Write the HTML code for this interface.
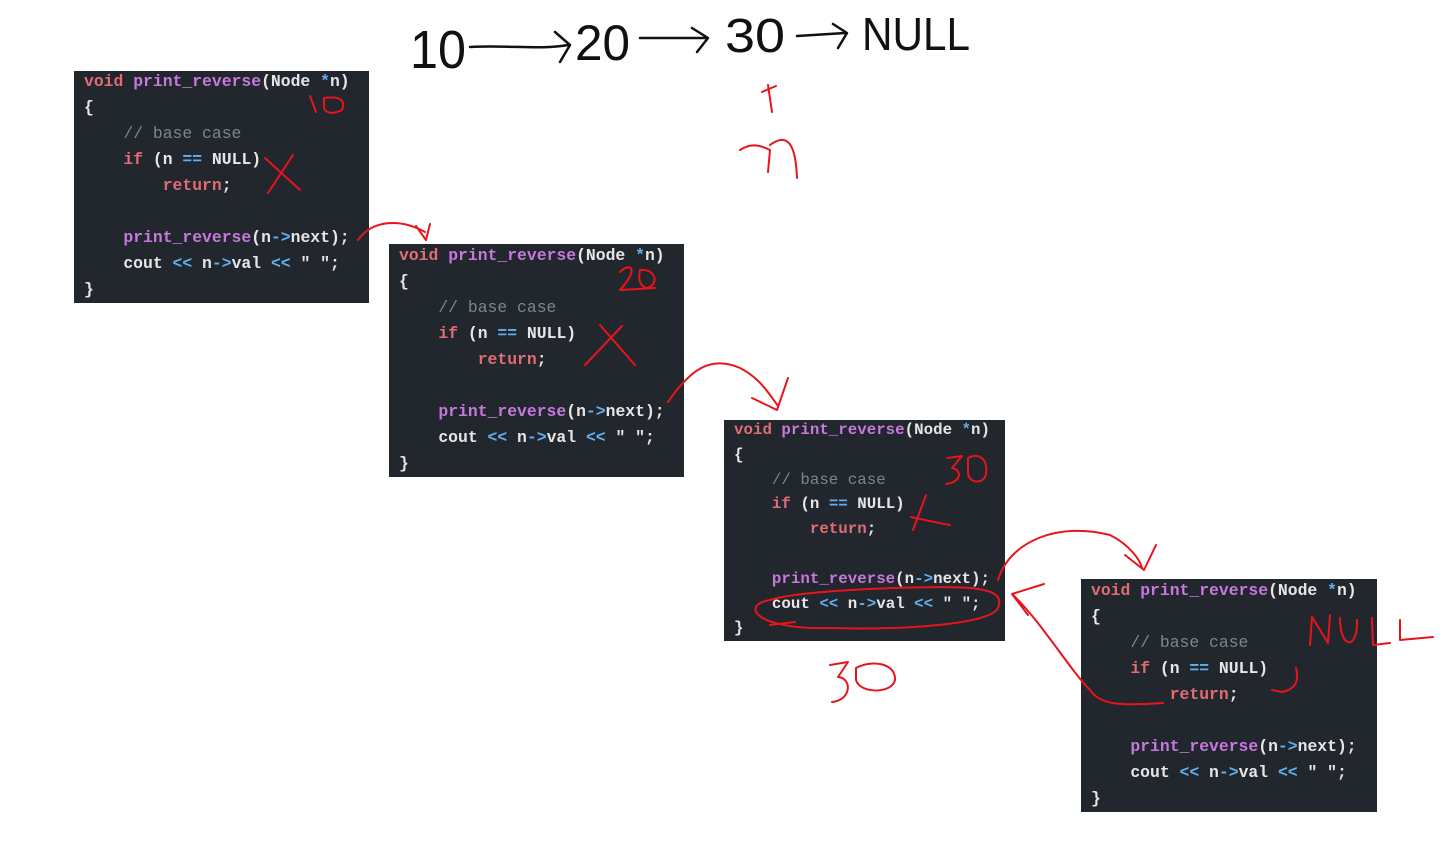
<!DOCTYPE html>
<html><head><meta charset="utf-8"><style>
body{margin:0;width:1453px;height:843px;background:#fff;position:relative;overflow:hidden}
.b{position:absolute;background:#22262d}
.b pre{position:absolute;margin:0;font-family:"Liberation Mono",monospace;font-size:16.4px;line-height:26px;color:#e6e6e6;font-weight:bold;white-space:pre}
.k{color:#e06c75}.f{color:#c678dd}.o{color:#61afef}.c{color:#7f848e;font-weight:normal}
svg{position:absolute;left:0;top:0}
</style></head><body>
<div class="b" style="left:74px;top:71px;width:295px;height:232px"><pre style="left:10px;top:-2px"><span class="k">void</span> <span class="f">print_reverse</span>(Node <span class="o">*</span>n)
{
    <span class="c">// base case</span>
    <span class="k">if</span> (n <span class="o">==</span> NULL)
        <span class="k">return</span>;

    <span class="f">print_reverse</span>(n<span class="o">-&gt;</span>next);
    cout <span class="o">&lt;&lt;</span> n<span class="o">-&gt;</span>val <span class="o">&lt;&lt;</span> " ";
}</pre></div>
<div class="b" style="left:389px;top:244px;width:295px;height:233px"><pre style="left:10px;top:-1px"><span class="k">void</span> <span class="f">print_reverse</span>(Node <span class="o">*</span>n)
{
    <span class="c">// base case</span>
    <span class="k">if</span> (n <span class="o">==</span> NULL)
        <span class="k">return</span>;

    <span class="f">print_reverse</span>(n<span class="o">-&gt;</span>next);
    cout <span class="o">&lt;&lt;</span> n<span class="o">-&gt;</span>val <span class="o">&lt;&lt;</span> " ";
}</pre></div>
<div class="b" style="left:724px;top:420px;width:281px;height:221px"><pre style="left:10px;top:-2px;line-height:24.8px;font-size:15.8px"><span class="k">void</span> <span class="f">print_reverse</span>(Node <span class="o">*</span>n)
{
    <span class="c">// base case</span>
    <span class="k">if</span> (n <span class="o">==</span> NULL)
        <span class="k">return</span>;

    <span class="f">print_reverse</span>(n<span class="o">-&gt;</span>next);
    cout <span class="o">&lt;&lt;</span> n<span class="o">-&gt;</span>val <span class="o">&lt;&lt;</span> " ";
}</pre></div>
<div class="b" style="left:1081px;top:579px;width:296px;height:233px"><pre style="left:10px;top:-1px"><span class="k">void</span> <span class="f">print_reverse</span>(Node <span class="o">*</span>n)
{
    <span class="c">// base case</span>
    <span class="k">if</span> (n <span class="o">==</span> NULL)
        <span class="k">return</span>;

    <span class="f">print_reverse</span>(n<span class="o">-&gt;</span>next);
    cout <span class="o">&lt;&lt;</span> n<span class="o">-&gt;</span>val <span class="o">&lt;&lt;</span> " ";
}</pre></div>
<svg width="1453" height="843" fill="none" stroke-linecap="round" stroke-linejoin="round">
<g font-family="Liberation Sans,sans-serif" font-weight="normal" fill="#111" stroke="none">
<text x="410" y="68" font-size="54" textLength="56" lengthAdjust="spacingAndGlyphs">10</text>
<text x="575" y="60" font-size="50" textLength="55" lengthAdjust="spacingAndGlyphs">20</text>
<text x="725" y="52" font-size="48" textLength="60" lengthAdjust="spacingAndGlyphs">30</text>
<text x="862" y="50" font-size="46" textLength="108" lengthAdjust="spacingAndGlyphs">NULL</text>
</g>
<g stroke="#111" stroke-width="2.5">
<path d="M470 47 C510 45 540 50 568 45 M555 32 L570 45 L560 62"/>
<path d="M640 38 L705 38 M692 28 L708 38 L697 52"/>
<path d="M797 36 L845 33 M833 24 L847 33 L838 48"/>
</g>
<g stroke="#e8141c" stroke-width="2">
<path d="M310 96 L316 112 M324 98 C340 96 346 100 342 110 C334 114 326 114 324 108 Z"/>
<path d="M265 158 L300 190 M293 155 L268 193"/>
<path d="M358 240 C372 220 400 218 425 232 M416 226 L426 240 L430 224"/>
<path d="M620 272 C630 262 640 268 620 290 L655 288 M640 270 C656 268 660 286 646 288 C636 284 640 272 640 270"/>
<path d="M600 325 L635 365 M622 326 L585 365"/>
<path d="M668 402 C690 370 710 355 740 368 C760 378 770 395 778 406 M752 398 L777 410 L788 378"/>
<path d="M768 85 L772 112 M762 92 L776 86"/>
<path d="M740 150 C752 142 762 146 770 150 L768 172 M770 145 C790 130 796 150 797 178"/>
<path d="M947 458 L962 456 L952 468 C962 470 962 482 946 484 M968 458 C980 452 988 460 986 474 C984 484 970 484 968 474 Z"/>
<path d="M926 495 L913 530 M911 517 C925 520 938 523 950 525"/>
<path d="M998 580 C1010 540 1060 522 1110 535 C1130 545 1140 560 1142 568 M1125 555 L1144 570 L1156 545"/>
<path d="M770 600 C740 605 755 630 830 628 C900 630 990 625 998 608 C1004 594 990 590 970 588 C930 585 800 590 770 600 M770 625 L795 622"/>
<path d="M1044 584 L1012 594 L1028 615 M1012 594 C1040 620 1070 670 1090 690 C1100 705 1120 706 1163 703"/>
<path d="M830 665 L848 662 L838 677 C852 678 852 700 832 702 M856 668 C870 660 896 662 895 680 C892 694 860 694 856 680 Z"/>
<path d="M1310 645 L1312 617 L1328 643 L1330 615 M1340 618 C1340 650 1358 650 1357 620 M1372 618 L1373 645 L1390 643 M1400 620 L1400 640 L1433 637"/>
<path d="M1272 690 L1282 692 M1296 668 C1300 685 1292 690 1282 692"/>
</g>
</svg>
</body></html>
